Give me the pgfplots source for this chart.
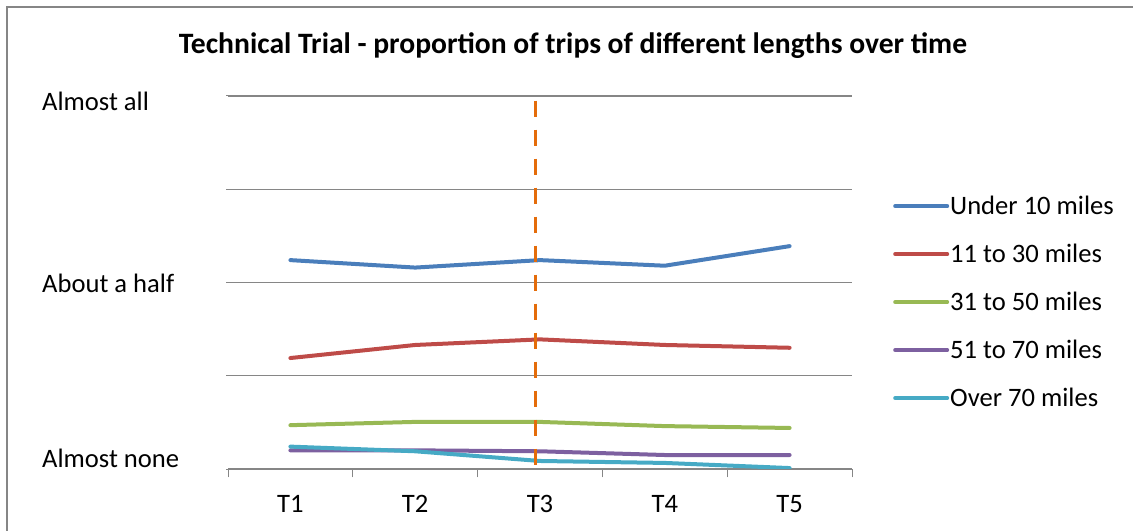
\documentclass[border=0pt]{standalone}
\usepackage{fontspec}
\setmainfont{Carlito}
\usepackage{pgfplots}
\pgfplotsset{compat=1.18}
\definecolor{cA}{HTML}{4A7EBB}
\definecolor{cB}{HTML}{BE4B48}
\definecolor{cC}{HTML}{98B954}
\definecolor{cD}{HTML}{7D60A0}
\definecolor{cE}{HTML}{46AAC5}
\definecolor{cO}{HTML}{E46C0A}
\definecolor{cG}{HTML}{868686}
\newcommand{\lblfont}{\fontsize{26.6bp}{31bp}\selectfont}
\begin{document}
\begin{tikzpicture}
\path[use as bounding box] (0,0) rectangle (1133bp,531bp);
\draw[color=cG, line width=1.5bp] (7bp,0) -- (7bp,524bp) -- (1133bp,524bp);
\node[font=\bfseries\fontsize{29.6bp}{34bp}\selectfont] at (573bp,485bp) {Technical Trial - proportion of trips of different lengths over time};
\begin{axis}[
  at={(228bp,62bp)}, anchor=south west, scale only axis,
  width=624bp, height=373bp,
  xmin=0.5, xmax=5.5, ymin=0, ymax=4,
  axis lines*=left,
  x axis line style={draw=cG, line width=1.2bp},
  y axis line style={draw=none},
  ytick={0,1,2,3,4},
  yticklabels={\raisebox{10.5bp}{Almost none},,\raisebox{-1bp}{About a half},,\raisebox{-5.5bp}{Almost all}},
  ymajorgrids, grid style={draw=cG, line width=1.2bp},
  ytick style={draw=cG, line width=1bp},
  major tick length=2bp,
  tick align=outside,
  xtick={1,2,3,4,5},
  xticklabels={T1,T2,T3,T4,T5},
  xtick style={draw=none},
  extra x ticks={0.5,1.5,2.5,3.5,4.5,5.5},
  extra x tick labels={},
  extra x tick style={xtick style={draw=cG, line width=1bp}, major tick length=8.5bp},
  xticklabel style={font=\lblfont, anchor=north, inner sep=0pt, yshift=-24bp},
  yticklabel style={font=\lblfont, anchor=base west, inner sep=0pt, xshift=-184bp, yshift=-8.6bp},
  legend style={at={(1.0657,0.7346)}, anchor=north west, draw=none, fill=none,
    inner sep=0pt, row sep=26bp, font=\lblfont, nodes={inner sep=1bp}},
  legend cell align=left,
  legend image code/.code={\draw[#1, line width=4bp] (0bp,0bp) -- (52bp,0bp);},
  every axis plot/.append style={line width=4bp, line cap=round, line join=round},
]
\addplot[cA] coordinates {(1,2.24) (2,2.16) (3,2.24) (4,2.18) (5,2.39)};
\addlegendentry{Under 10 miles}
\addplot[cB] coordinates {(1,1.19) (2,1.33) (3,1.39) (4,1.33) (5,1.30)};
\addlegendentry{11 to 30 miles}
\addplot[cC] coordinates {(1,0.47) (2,0.505) (3,0.505) (4,0.46) (5,0.44)};
\addlegendentry{31 to 50 miles}
\addplot[cD] coordinates {(1,0.20) (2,0.20) (3,0.19) (4,0.15) (5,0.15)};
\addlegendentry{51 to 70 miles}
\addplot[cE] coordinates {(1,0.24) (2,0.19) (3,0.086) (4,0.065) (5,0.01)};
\addlegendentry{Over 70 miles}
\addplot[cO, forget plot, line width=3bp, line cap=butt, dash pattern=on 16.5bp off 12.5bp] coordinates {(2.96,3.95) (2.96,0)};
\end{axis}
\end{tikzpicture}
\end{document}
